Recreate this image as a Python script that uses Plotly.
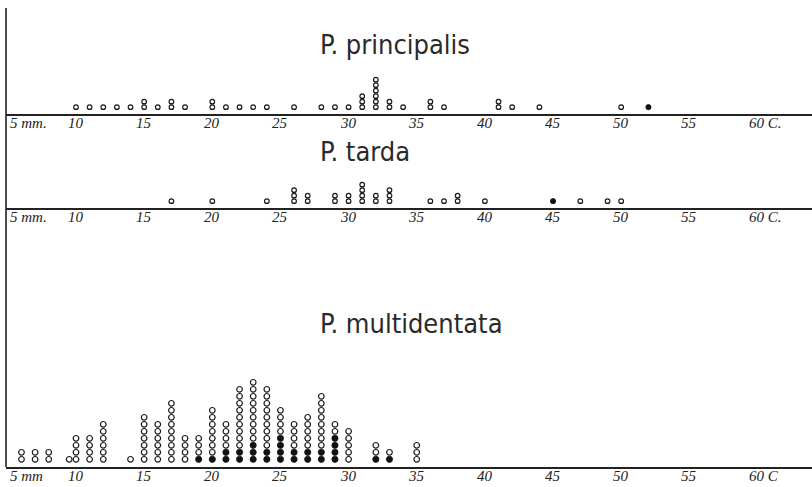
import plotly.graph_objects as go

# Carapace length classes (mm) and number of specimens per class.
# Filled dots are stacked at the bottom of each column, open dots above.
principalis_mm = [10, 11, 12, 13, 14, 15, 16, 17, 18, 20, 21, 22, 23, 24, 26, 28,
                  29, 30, 31, 32, 33, 34, 36, 37, 41, 42, 44, 50, 52]
principalis_open = [1, 1, 1, 1, 1, 2, 1, 2, 1, 2, 1, 1, 1, 1, 1, 1,
                    1, 1, 3, 6, 2, 1, 2, 1, 2, 1, 1, 1, 0]
principalis_filled = [0, 0, 0, 0, 0, 0, 0, 0, 0, 0, 0, 0, 0, 0, 0, 0,
                      0, 0, 0, 0, 0, 0, 0, 0, 0, 0, 0, 0, 1]

tarda_mm = [17, 20, 24, 26, 27, 29, 30, 31, 32, 33, 36, 37, 38, 40, 45, 47, 49, 50]
tarda_open = [1, 1, 1, 3, 2, 2, 2, 4, 2, 3, 1, 1, 2, 1, 0, 1, 1, 1]
tarda_filled = [0, 0, 0, 0, 0, 0, 0, 0, 0, 0, 0, 0, 0, 0, 1, 0, 0, 0]

multidentata_mm = [6, 7, 8, 9.5, 10, 11, 12, 14, 15, 16, 17, 18, 19, 20, 21, 22,
                   23, 24, 25, 26, 27, 28, 29, 30, 32, 33, 35]
multidentata_total = [2, 2, 2, 1, 4, 4, 6, 1, 7, 6, 9, 4, 4, 8, 6, 11,
                      12, 11, 8, 6, 7, 10, 6, 5, 3, 2, 3]
multidentata_filled = [0, 0, 0, 0, 0, 0, 0, 0, 0, 0, 0, 0, 1, 1, 2, 2,
                       3, 2, 4, 2, 2, 2, 4, 0, 1, 1, 0]
multidentata_open = [t - f for t, f in zip(multidentata_total, multidentata_filled)]

tick_mm = [5, 10, 15, 20, 25, 30, 35, 40, 45, 50, 55, 60]
tick_text_upper = ["5 mm.", "10", "15", "20", "25", "30", "35", "40", "45", "50", "55", "60 C."]
tick_text_lower = ["5 mm", "10", "15", "20", "25", "30", "35", "40", "45", "50", "55", "60 C"]

W, H = 812, 487


def stack(mm, n_open, n_filled):
    """Expand counts into one dot per specimen, filled dots first."""
    fx, fy, ox, oy = [], [], [], []
    for x, o, f in zip(mm, n_open, n_filled):
        for k in range(f):
            fx.append(x)
            fy.append(k + 1)
        for k in range(o):
            ox.append(x)
            oy.append(f + k + 1)
    return ox, oy, fx, fy


panels = [
    # title, data, axis-line pixel row, dot size, y-range, domain top pixel, tick texts, title row
    ("P. principalis", (principalis_mm, principalis_open, principalis_filled), 114, 4.6, [-0.25, 11.75], 48, tick_text_upper, 45),
    ("P. tarda", (tarda_mm, tarda_open, tarda_filled), 208, 4.6, [-0.25, 11.75], 142, tick_text_upper, 151),
    ("P. multidentata", (multidentata_mm, multidentata_open, multidentata_filled), 467, 5.6, [-0.1, 14.9], 362, tick_text_lower, 323),
]

fig = go.Figure()
annotations = []
left_px = 6
x_range = [4.864, 64.0]

for i, (name, data, line_px, size, yr, top_px, ticks, title_px) in enumerate(panels, start=1):
    ox, oy, fx, fy = stack(*data)
    xa = "x" if i == 1 else f"x{i}"
    ya = "y" if i == 1 else f"y{i}"
    fig.add_trace(go.Scatter(
        x=ox, y=oy, mode="markers", xaxis=xa, yaxis=ya, showlegend=False,
        marker=dict(symbol="circle", size=size, color="white",
                    line=dict(color="#1a1a1a", width=1.2)),
    ))
    fig.add_trace(go.Scatter(
        x=fx, y=fy, mode="markers", xaxis=xa, yaxis=ya, showlegend=False,
        marker=dict(symbol="circle", size=size + 0.6, color="#111111",
                    line=dict(color="#111111", width=0.8)),
    ))
    suffix = "" if i == 1 else str(i)
    fig.layout["xaxis" + suffix] = dict(
        domain=[left_px / W, 1], range=x_range, anchor=ya,
        showline=True, linecolor="#222222", linewidth=1.6,
        showgrid=False, zeroline=False, showticklabels=False, ticks="",
    )
    fig.layout["yaxis" + suffix] = dict(
        domain=[1 - line_px / H, 1 - top_px / H], range=yr, anchor=xa,
        visible=False, showgrid=False, zeroline=False,
    )
    # tick labels under the axis line
    for v, t in zip(tick_mm, ticks):
        if v == tick_mm[0]:
            anchor, shift = "left", 0
        elif v == tick_mm[-1]:
            anchor, shift = "left", -10
        else:
            anchor, shift = "center", 0
        annotations.append(dict(
            x=v, xref=xa, y=1 - (line_px + 9) / H, yref="paper",
            text=t, showarrow=False, xanchor=anchor, yanchor="middle", xshift=shift,
            font=dict(family="Liberation Serif, DejaVu Serif, serif", size=15,
                      color="#222222", style="italic"),
        ))
    # species title
    annotations.append(dict(
        x=318 / W, xref="paper", y=1 - title_px / H, yref="paper",
        text=name, showarrow=False, xanchor="left", yanchor="middle",
        font=dict(family="Liberation Sans Narrow, DejaVu Sans Condensed, sans-serif",
                  size=27, color="#2a2a2a"),
    ))

fig.update_layout(
    width=W, height=H,
    margin=dict(l=0, r=0, t=0, b=0),
    paper_bgcolor="white", plot_bgcolor="white",
    annotations=annotations,
    shapes=[dict(type="line", xref="paper", yref="paper",
                 x0=left_px / W, x1=left_px / W, y0=1 - 467 / H, y1=1 - 8 / H,
                 line=dict(color="#222222", width=1.6))],
)

fig.write_html("out.html")
